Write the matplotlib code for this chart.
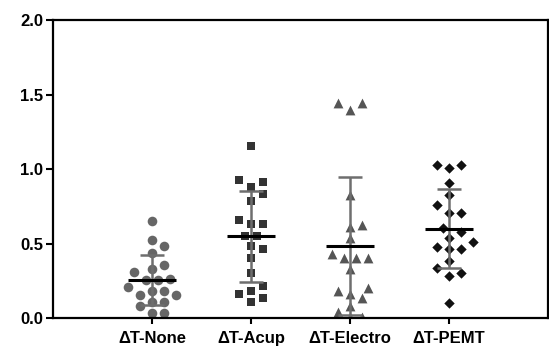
import numpy as np
import matplotlib
matplotlib.use("Agg")
from matplotlib import pyplot as plt

# Dados (20 pontos por grupo)
grupos = ["\u0394T-None", "\u0394T-Acup", "\u0394T-Electro", "\u0394T-PEMT"]

none_vals = [0.653, 0.523, 0.483, 0.434, 0.356, 0.329, 0.307, 0.255, 0.26, 0.255,
             0.206, 0.183, 0.154, 0.154, 0.183, 0.109, 0.08, 0.109, 0.031, 0.031]
acup_vals = [1.154, 0.911, 0.926, 0.881, 0.832, 0.785, 0.629, 0.658, 0.629, 0.55,
             0.55, 0.463, 0.483, 0.405, 0.304, 0.215, 0.161, 0.181, 0.107, 0.132]
electro_vals = [1.445, 1.445, 1.396, 0.826, 0.624, 0.613, 0.535, 0.405, 0.427, 0.40,
                0.40, 0.327, 0.203, 0.181, 0.159, 0.132, 0.08, 0.038, 0.005, 0.005]
pemt_vals = [1.027, 1.004, 1.027, 0.908, 0.826, 0.758, 0.707, 0.707, 0.579, 0.606,
             0.535, 0.512, 0.461, 0.479, 0.461, 0.383, 0.304, 0.338, 0.282, 0.103]

dados = [none_vals, acup_vals, electro_vals, pemt_vals]
marcadores = ["o", "s", "^", "D"]
cores = ["#666666", "#333333", "#555555", "#111111"]
tamanhos = [48, 40, 50, 28]

plt.rcParams['font.family'] = ['Liberation Sans', 'DejaVu Sans']
plt.rcParams['font.weight'] = 'bold'

fig = plt.figure(figsize=(5.49, 3.5), dpi=100)
ax = fig.add_axes([0.0965, 0.0914, 0.9016, 0.8514])
ax.set_xlim(-1, 4)
ax.set_ylim(0, 2.0)

# escala em pixels para o "swarm"
px_x = 99.5
px_y = 149.0


def swarm(vals, passo=6.0, diam=11.0):
    # posiciona pontos sem sobreposicao (estilo GraphPad)
    ordem = np.argsort(vals)
    offs = np.zeros(len(vals))
    colocados = []
    for i in ordem:
        y = vals[i] * px_y
        k = 0
        while True:
            cands = [0.0] if k == 0 else [k * passo, -k * passo]
            ok = None
            for c in cands:
                if all((c - cx) ** 2 + (y - cy) ** 2 >= diam ** 2 for cx, cy in colocados):
                    ok = c
                    break
            if ok is not None:
                offs[i] = ok
                colocados.append((ok, y))
                break
            k += 1
    return offs / px_x


for i, vals in enumerate(dados):
    vals = np.array(vals)
    xs = i + swarm(vals)
    ax.scatter(xs, vals, marker=marcadores[i], s=tamanhos[i], color=cores[i],
               linewidths=0, zorder=2)
    media = np.mean(vals)
    dp = np.std(vals, ddof=1)
    ax.errorbar(i, media, yerr=dp, fmt="none", ecolor="#6e6e6e", elinewidth=1.8,
                capsize=8.5, capthick=1.8, zorder=3)
    ax.hlines(media, i - 0.24, i + 0.24, color="black", linewidth=2.2, zorder=4)

ax.set_yticks([0, 0.5, 1.0, 1.5, 2.0])
ax.set_yticklabels(["%.1f" % v for v in [0, 0.5, 1.0, 1.5, 2.0]], fontsize=12,
                   fontweight="bold")
ax.set_xticks(range(4))
ax.set_xticklabels(grupos, fontsize=12, fontweight="bold")

for s in ax.spines.values():
    s.set_linewidth(1.6)
ax.tick_params(axis="y", length=5, width=1.5, pad=2)
ax.tick_params(axis="x", length=4, width=1.5, pad=5)

fig.savefig("out.png", dpi=100)
